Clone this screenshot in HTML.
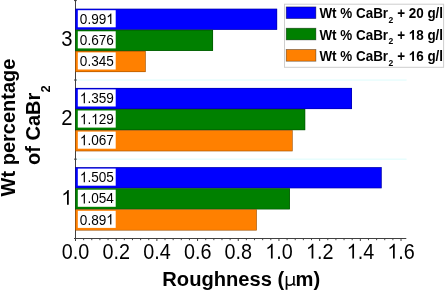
<!DOCTYPE html>
<html><head><meta charset="utf-8"><title>Roughness chart</title>
<style>html,body{margin:0;padding:0;background:#fff;}body{width:445px;height:291px;overflow:hidden;}svg{display:block;will-change:transform;}text{font-family:"Liberation Sans",sans-serif;fill:#000;}</style>
</head><body>
<svg width="445" height="291" viewBox="0 0 445 291">
<rect x="0" y="0" width="445" height="291" fill="#ffffff"/>
<rect x="76.00" y="79.35" width="330.60" height="1.4" fill="#e6fdfd"/>
<rect x="76.00" y="158.50" width="330.60" height="1.4" fill="#e6fdfd"/>
<line x1="75.50" y1="0" x2="75.50" y2="239.00" stroke="#404040" stroke-width="1.0"/>
<line x1="75.00" y1="238.50" x2="406.3" y2="238.50" stroke="#404040" stroke-width="1.0"/>
<line x1="74.00" y1="0.60" x2="76.80" y2="0.60" stroke="#404040" stroke-width="1.0"/>
<line x1="74.00" y1="80.00" x2="76.80" y2="80.00" stroke="#404040" stroke-width="1.0"/>
<line x1="74.00" y1="159.15" x2="76.80" y2="159.15" stroke="#404040" stroke-width="1.0"/>
<line x1="74.00" y1="238.50" x2="76.80" y2="238.50" stroke="#404040" stroke-width="1.0"/>
<line x1="75.50" y1="238.50" x2="75.50" y2="241.00" stroke="#404040" stroke-width="1.0"/>
<g transform="translate(75.60,258.50) scale(0.93,1)">
<text x="-14.80" y="0" font-size="21.3" text-anchor="start">0.0</text>
</g>
<line x1="83.64" y1="238.50" x2="83.64" y2="240.20" stroke="#404040" stroke-width="0.95"/>
<line x1="91.78" y1="238.50" x2="91.78" y2="240.20" stroke="#404040" stroke-width="0.95"/>
<line x1="99.91" y1="238.50" x2="99.91" y2="240.20" stroke="#404040" stroke-width="0.95"/>
<line x1="108.05" y1="238.50" x2="108.05" y2="240.20" stroke="#404040" stroke-width="0.95"/>
<line x1="116.19" y1="238.50" x2="116.19" y2="241.00" stroke="#404040" stroke-width="1.0"/>
<g transform="translate(116.29,258.50) scale(0.93,1)">
<text x="-14.80" y="0" font-size="21.3" text-anchor="start">0.2</text>
</g>
<line x1="124.33" y1="238.50" x2="124.33" y2="240.20" stroke="#404040" stroke-width="0.95"/>
<line x1="132.47" y1="238.50" x2="132.47" y2="240.20" stroke="#404040" stroke-width="0.95"/>
<line x1="140.60" y1="238.50" x2="140.60" y2="240.20" stroke="#404040" stroke-width="0.95"/>
<line x1="148.74" y1="238.50" x2="148.74" y2="240.20" stroke="#404040" stroke-width="0.95"/>
<line x1="156.88" y1="238.50" x2="156.88" y2="241.00" stroke="#404040" stroke-width="1.0"/>
<g transform="translate(156.98,258.50) scale(0.93,1)">
<text x="-14.80" y="0" font-size="21.3" text-anchor="start">0.4</text>
</g>
<line x1="165.02" y1="238.50" x2="165.02" y2="240.20" stroke="#404040" stroke-width="0.95"/>
<line x1="173.16" y1="238.50" x2="173.16" y2="240.20" stroke="#404040" stroke-width="0.95"/>
<line x1="181.29" y1="238.50" x2="181.29" y2="240.20" stroke="#404040" stroke-width="0.95"/>
<line x1="189.43" y1="238.50" x2="189.43" y2="240.20" stroke="#404040" stroke-width="0.95"/>
<line x1="197.57" y1="238.50" x2="197.57" y2="241.00" stroke="#404040" stroke-width="1.0"/>
<g transform="translate(197.67,258.50) scale(0.93,1)">
<text x="-14.80" y="0" font-size="21.3" text-anchor="start">0.6</text>
</g>
<line x1="205.71" y1="238.50" x2="205.71" y2="240.20" stroke="#404040" stroke-width="0.95"/>
<line x1="213.85" y1="238.50" x2="213.85" y2="240.20" stroke="#404040" stroke-width="0.95"/>
<line x1="221.98" y1="238.50" x2="221.98" y2="240.20" stroke="#404040" stroke-width="0.95"/>
<line x1="230.12" y1="238.50" x2="230.12" y2="240.20" stroke="#404040" stroke-width="0.95"/>
<line x1="238.26" y1="238.50" x2="238.26" y2="241.00" stroke="#404040" stroke-width="1.0"/>
<g transform="translate(238.36,258.50) scale(0.93,1)">
<text x="-14.80" y="0" font-size="21.3" text-anchor="start">0.8</text>
</g>
<line x1="246.40" y1="238.50" x2="246.40" y2="240.20" stroke="#404040" stroke-width="0.95"/>
<line x1="254.54" y1="238.50" x2="254.54" y2="240.20" stroke="#404040" stroke-width="0.95"/>
<line x1="262.67" y1="238.50" x2="262.67" y2="240.20" stroke="#404040" stroke-width="0.95"/>
<line x1="270.81" y1="238.50" x2="270.81" y2="240.20" stroke="#404040" stroke-width="0.95"/>
<line x1="278.95" y1="238.50" x2="278.95" y2="241.00" stroke="#404040" stroke-width="1.0"/>
<g transform="translate(279.05,258.50) scale(0.93,1)">
<text x="-14.80" y="0" font-size="21.3" text-anchor="start">&#160;&#160;.0</text>
<path transform="translate(-14.80,0) scale(0.01040,-0.01040)" d="M763 0H583V1098Q518 1038 412.5 979T223 890V1057Q374 1125 487 1221T647 1409H763Z" fill="#000"/>
</g>
<line x1="287.09" y1="238.50" x2="287.09" y2="240.20" stroke="#404040" stroke-width="0.95"/>
<line x1="295.23" y1="238.50" x2="295.23" y2="240.20" stroke="#404040" stroke-width="0.95"/>
<line x1="303.36" y1="238.50" x2="303.36" y2="240.20" stroke="#404040" stroke-width="0.95"/>
<line x1="311.50" y1="238.50" x2="311.50" y2="240.20" stroke="#404040" stroke-width="0.95"/>
<line x1="319.64" y1="238.50" x2="319.64" y2="241.00" stroke="#404040" stroke-width="1.0"/>
<g transform="translate(319.74,258.50) scale(0.93,1)">
<text x="-14.80" y="0" font-size="21.3" text-anchor="start">&#160;&#160;.2</text>
<path transform="translate(-14.80,0) scale(0.01040,-0.01040)" d="M763 0H583V1098Q518 1038 412.5 979T223 890V1057Q374 1125 487 1221T647 1409H763Z" fill="#000"/>
</g>
<line x1="327.78" y1="238.50" x2="327.78" y2="240.20" stroke="#404040" stroke-width="0.95"/>
<line x1="335.92" y1="238.50" x2="335.92" y2="240.20" stroke="#404040" stroke-width="0.95"/>
<line x1="344.05" y1="238.50" x2="344.05" y2="240.20" stroke="#404040" stroke-width="0.95"/>
<line x1="352.19" y1="238.50" x2="352.19" y2="240.20" stroke="#404040" stroke-width="0.95"/>
<line x1="360.33" y1="238.50" x2="360.33" y2="241.00" stroke="#404040" stroke-width="1.0"/>
<g transform="translate(360.43,258.50) scale(0.93,1)">
<text x="-14.80" y="0" font-size="21.3" text-anchor="start">&#160;&#160;.4</text>
<path transform="translate(-14.80,0) scale(0.01040,-0.01040)" d="M763 0H583V1098Q518 1038 412.5 979T223 890V1057Q374 1125 487 1221T647 1409H763Z" fill="#000"/>
</g>
<line x1="368.47" y1="238.50" x2="368.47" y2="240.20" stroke="#404040" stroke-width="0.95"/>
<line x1="376.61" y1="238.50" x2="376.61" y2="240.20" stroke="#404040" stroke-width="0.95"/>
<line x1="384.74" y1="238.50" x2="384.74" y2="240.20" stroke="#404040" stroke-width="0.95"/>
<line x1="392.88" y1="238.50" x2="392.88" y2="240.20" stroke="#404040" stroke-width="0.95"/>
<line x1="401.02" y1="238.50" x2="401.02" y2="241.00" stroke="#404040" stroke-width="1.0"/>
<g transform="translate(401.12,258.50) scale(0.93,1)">
<text x="-14.80" y="0" font-size="21.3" text-anchor="start">&#160;&#160;.6</text>
<path transform="translate(-14.80,0) scale(0.01040,-0.01040)" d="M763 0H583V1098Q518 1038 412.5 979T223 890V1057Q374 1125 487 1221T647 1409H763Z" fill="#000"/>
</g>
<rect x="75.25" y="8.75" width="201.87" height="21.10" fill="#0000ff"/>
<rect x="75.60" y="9.00" width="201.27" height="20.60" fill="none" stroke="#000" stroke-opacity="0.42" stroke-width="0.55"/>
<rect x="75.25" y="29.85" width="137.78" height="21.10" fill="#008000"/>
<rect x="75.60" y="30.10" width="137.18" height="20.60" fill="none" stroke="#000" stroke-opacity="0.42" stroke-width="0.55"/>
<rect x="75.25" y="50.95" width="70.44" height="21.10" fill="#ff8000"/>
<rect x="75.60" y="51.20" width="69.84" height="20.60" fill="none" stroke="#000" stroke-opacity="0.42" stroke-width="0.55"/>
<rect x="77.80" y="10.20" width="37.90" height="17.10" fill="#ffffff"/>
<g transform="translate(96.85,23.95) scale(0.888,1)">
<text x="-19.14" y="0" font-size="15.3" text-anchor="start">0.99&#160;&#160;</text>
<path transform="translate(10.63,0) scale(0.00747,-0.00747)" d="M763 0H583V1098Q518 1038 412.5 979T223 890V1057Q374 1125 487 1221T647 1409H763Z" fill="#000"/>
</g>
<rect x="77.80" y="31.30" width="37.90" height="17.10" fill="#ffffff"/>
<g transform="translate(96.85,45.05) scale(0.888,1)">
<text x="-19.14" y="0" font-size="15.3" text-anchor="start">0.676</text>
</g>
<rect x="77.80" y="52.40" width="37.90" height="17.10" fill="#ffffff"/>
<g transform="translate(96.85,66.15) scale(0.888,1)">
<text x="-19.14" y="0" font-size="15.3" text-anchor="start">0.345</text>
</g>
<g transform="translate(72.50,46.25) scale(0.95,1)">
<text x="-11.85" y="0" font-size="21.3" text-anchor="start">3</text>
</g>
<rect x="75.25" y="87.95" width="276.74" height="21.10" fill="#0000ff"/>
<rect x="75.60" y="88.20" width="276.14" height="20.60" fill="none" stroke="#000" stroke-opacity="0.42" stroke-width="0.55"/>
<rect x="75.25" y="109.05" width="229.95" height="21.10" fill="#008000"/>
<rect x="75.60" y="109.30" width="229.35" height="20.60" fill="none" stroke="#000" stroke-opacity="0.42" stroke-width="0.55"/>
<rect x="75.25" y="130.15" width="217.33" height="21.10" fill="#ff8000"/>
<rect x="75.60" y="130.40" width="216.73" height="20.60" fill="none" stroke="#000" stroke-opacity="0.42" stroke-width="0.55"/>
<rect x="77.80" y="89.40" width="37.90" height="17.10" fill="#ffffff"/>
<g transform="translate(96.85,103.15) scale(0.888,1)">
<text x="-19.14" y="0" font-size="15.3" text-anchor="start">&#160;&#160;.359</text>
<path transform="translate(-19.14,0) scale(0.00747,-0.00747)" d="M763 0H583V1098Q518 1038 412.5 979T223 890V1057Q374 1125 487 1221T647 1409H763Z" fill="#000"/>
</g>
<rect x="77.80" y="110.50" width="37.90" height="17.10" fill="#ffffff"/>
<g transform="translate(96.85,124.25) scale(0.888,1)">
<text x="-19.14" y="0" font-size="15.3" text-anchor="start">&#160;&#160;.&#160;&#160;29</text>
<path transform="translate(-19.14,0) scale(0.00747,-0.00747)" d="M763 0H583V1098Q518 1038 412.5 979T223 890V1057Q374 1125 487 1221T647 1409H763Z" fill="#000"/>
<path transform="translate(-6.38,0) scale(0.00747,-0.00747)" d="M763 0H583V1098Q518 1038 412.5 979T223 890V1057Q374 1125 487 1221T647 1409H763Z" fill="#000"/>
</g>
<rect x="77.80" y="131.60" width="37.90" height="17.10" fill="#ffffff"/>
<g transform="translate(96.85,145.35) scale(0.888,1)">
<text x="-19.14" y="0" font-size="15.3" text-anchor="start">&#160;&#160;.067</text>
<path transform="translate(-19.14,0) scale(0.00747,-0.00747)" d="M763 0H583V1098Q518 1038 412.5 979T223 890V1057Q374 1125 487 1221T647 1409H763Z" fill="#000"/>
</g>
<g transform="translate(72.50,125.45) scale(0.95,1)">
<text x="-11.85" y="0" font-size="21.3" text-anchor="start">2</text>
</g>
<rect x="75.25" y="167.15" width="306.44" height="21.10" fill="#0000ff"/>
<rect x="75.60" y="167.40" width="305.84" height="20.60" fill="none" stroke="#000" stroke-opacity="0.42" stroke-width="0.55"/>
<rect x="75.25" y="188.25" width="214.69" height="21.10" fill="#008000"/>
<rect x="75.60" y="188.50" width="214.09" height="20.60" fill="none" stroke="#000" stroke-opacity="0.42" stroke-width="0.55"/>
<rect x="75.25" y="209.35" width="181.52" height="21.10" fill="#ff8000"/>
<rect x="75.60" y="209.60" width="180.92" height="20.60" fill="none" stroke="#000" stroke-opacity="0.42" stroke-width="0.55"/>
<rect x="77.80" y="168.60" width="37.90" height="17.10" fill="#ffffff"/>
<g transform="translate(96.85,182.35) scale(0.888,1)">
<text x="-19.14" y="0" font-size="15.3" text-anchor="start">&#160;&#160;.505</text>
<path transform="translate(-19.14,0) scale(0.00747,-0.00747)" d="M763 0H583V1098Q518 1038 412.5 979T223 890V1057Q374 1125 487 1221T647 1409H763Z" fill="#000"/>
</g>
<rect x="77.80" y="189.70" width="37.90" height="17.10" fill="#ffffff"/>
<g transform="translate(96.85,203.45) scale(0.888,1)">
<text x="-19.14" y="0" font-size="15.3" text-anchor="start">&#160;&#160;.054</text>
<path transform="translate(-19.14,0) scale(0.00747,-0.00747)" d="M763 0H583V1098Q518 1038 412.5 979T223 890V1057Q374 1125 487 1221T647 1409H763Z" fill="#000"/>
</g>
<rect x="77.80" y="210.80" width="37.90" height="17.10" fill="#ffffff"/>
<g transform="translate(96.85,224.55) scale(0.888,1)">
<text x="-19.14" y="0" font-size="15.3" text-anchor="start">0.89&#160;&#160;</text>
<path transform="translate(10.63,0) scale(0.00747,-0.00747)" d="M763 0H583V1098Q518 1038 412.5 979T223 890V1057Q374 1125 487 1221T647 1409H763Z" fill="#000"/>
</g>
<g transform="translate(72.50,204.65) scale(0.95,1)">
<text x="-11.85" y="0" font-size="21.3" text-anchor="start">&#160;&#160;</text>
<path transform="translate(-11.85,0) scale(0.01040,-0.01040)" d="M763 0H583V1098Q518 1038 412.5 979T223 890V1057Q374 1125 487 1221T647 1409H763Z" fill="#000"/>
</g>
<text transform="translate(162.30,286.00) scale(1.0,1)" font-size="20.15" text-anchor="start" font-weight="bold">Roughness (</text>
<text transform="translate(295.50,286.00) scale(1.0,1)" font-size="20.15" text-anchor="start" font-weight="bold">m)</text>
<path d="M285.75 276.00 L287.35 276.00 L287.35 283.00 Q287.55 284.60 289.45 284.60 Q291.95 284.50 293.05 282.80 L293.05 276.00 L294.65 276.00 L294.65 283.90 Q294.75 284.80 295.85 284.50 L295.85 285.20 Q293.45 286.50 293.05 284.40 Q291.55 286.00 289.25 286.00 Q287.95 286.00 287.35 285.30 L287.55 289.70 L285.60 289.70 Z" fill="#000"/>
<text transform="translate(15.10,127.50) rotate(-90) scale(1.0,1)" font-size="20" text-anchor="middle" font-weight="bold">Wt percentage</text>
<text transform="translate(40.20,125.10) rotate(-90) scale(1.0,1)" font-size="20" text-anchor="middle" font-weight="bold">of CaBr<tspan font-size="12.8" dy="9.3" dx="0.3">2</tspan></text>
<rect x="284.5" y="4.2" width="159.1" height="63.1" fill="#ffffff" stroke="#cecece" stroke-width="1"/>
<rect x="286.2" y="6.90" width="29.7" height="11.7" fill="#0000ff" stroke="rgba(0,0,0,0.5)" stroke-width="0.7"/>
<g transform="translate(319.4,18.40) scale(0.96,1)">
<text id="leg0" x="0" y="0" font-size="14" font-weight="bold">Wt % CaBr<tspan font-size="8.9" dy="4.7" dx="0.5">2</tspan><tspan dy="-4.7" dx="0.1"> + 20 g/l</tspan></text>
</g>
<rect x="286.2" y="28.20" width="29.7" height="11.7" fill="#008000" stroke="rgba(0,0,0,0.5)" stroke-width="0.7"/>
<g transform="translate(319.4,39.70) scale(0.96,1)">
<text id="leg1" x="0" y="0" font-size="14" font-weight="bold">Wt % CaBr<tspan font-size="8.9" dy="4.7" dx="0.5">2</tspan><tspan dy="-4.7" dx="0.1"> + &#160;&#160;8 g/l</tspan></text>
<path transform="translate(93.04,0) scale(0.00684,-0.00684)" d="M806 0H525V1014Q371 876 162 810V1054Q272 1088 401 1185T578 1409H806Z" fill="#000"/>
</g>
<rect x="286.2" y="49.50" width="29.7" height="11.7" fill="#ff8000" stroke="rgba(0,0,0,0.5)" stroke-width="0.7"/>
<g transform="translate(319.4,61.00) scale(0.96,1)">
<text id="leg2" x="0" y="0" font-size="14" font-weight="bold">Wt % CaBr<tspan font-size="8.9" dy="4.7" dx="0.5">2</tspan><tspan dy="-4.7" dx="0.1"> + &#160;&#160;6 g/l</tspan></text>
<path transform="translate(93.04,0) scale(0.00684,-0.00684)" d="M806 0H525V1014Q371 876 162 810V1054Q272 1088 401 1185T578 1409H806Z" fill="#000"/>
</g>
</svg>
</body></html>
